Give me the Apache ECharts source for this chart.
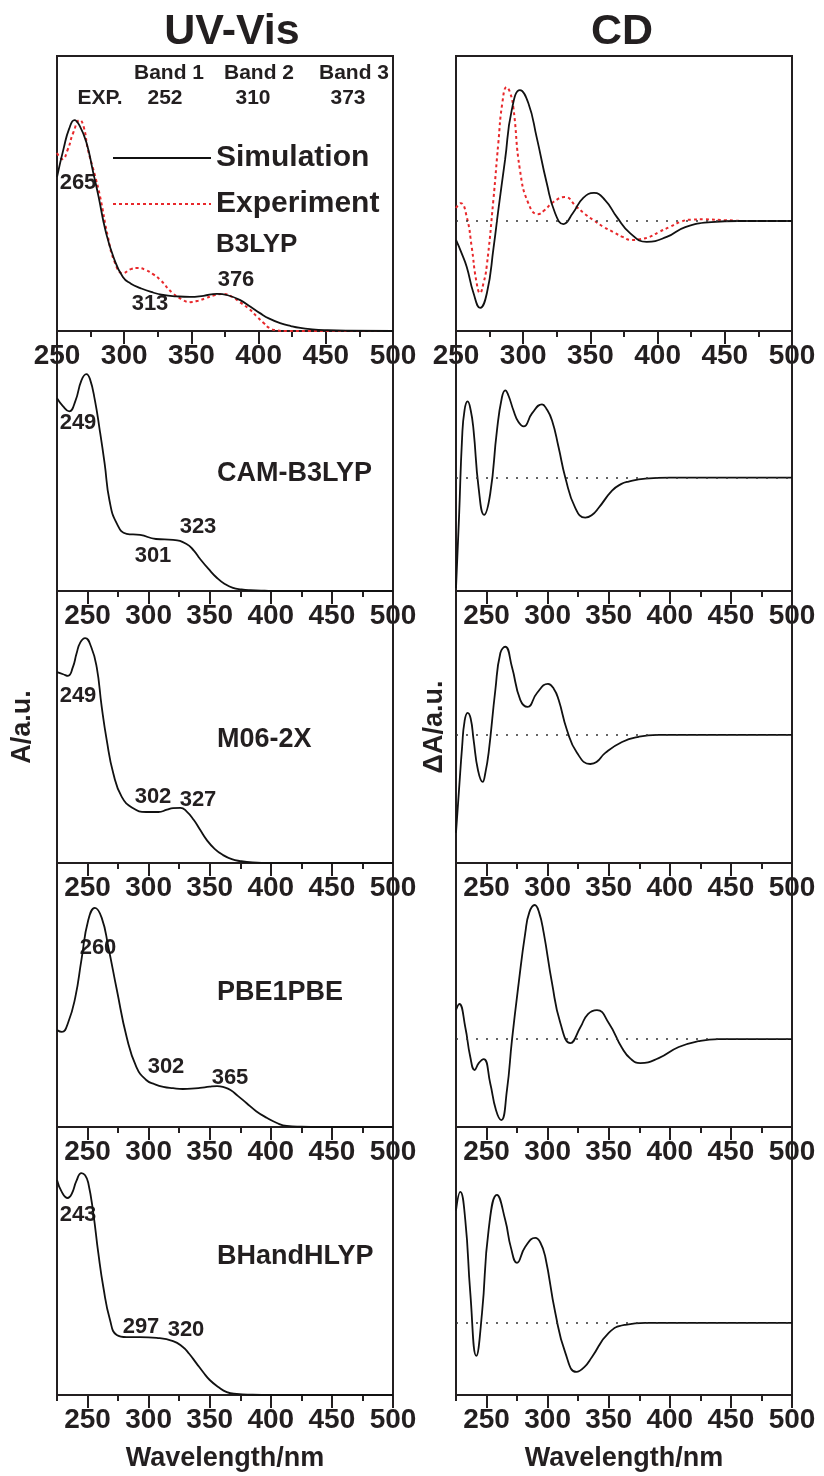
<!DOCTYPE html>
<html>
<head>
<meta charset="utf-8">
<script src="https://cdn.jsdelivr.net/npm/echarts@6/dist/echarts.min.js"></script>
<style>
  html, body { margin: 0; padding: 0; background: #fff; }
  #main { width: 824px; height: 1476px; }
</style>
</head>
<body>
<div id="main"></div>
<script>
// ---- data: [wavelength nm, intensity a.u.] ----
var methods = ['B3LYP', 'CAM-B3LYP', 'M06-2X', 'PBE1PBE', 'BHandHLYP'];

// UV-Vis (simulated) per functional, experiment for the first panel
var uvB3lyp = [[250,0.56],[255,0.665],[259,0.735],[263,0.767],[267,0.745],[272,0.684],[277,0.575],[281,0.487],[286,0.367],[292,0.269],[299,0.196],[305,0.172],[312,0.156],[320,0.142],[329,0.131],[339,0.126],[349,0.124],[359,0.128],[369,0.135],[377,0.13],[386,0.113],[394,0.088],[401,0.065],[408,0.045],[416,0.029],[424,0.018],[431,0.011],[440,0.006],[450,0.003],[465,0.001],[500,0]];
var uvExp = [[250,0.647],[254,0.625],[258,0.66],[262,0.72],[267,0.767],[270,0.74],[273,0.66],[278,0.57],[282,0.49],[288,0.34],[293,0.25],[299,0.21],[305,0.225],[310,0.229],[316,0.222],[322,0.205],[327,0.185],[336,0.138],[343,0.115],[349,0.105],[355,0.11],[361,0.12],[367,0.13],[373,0.135],[380,0.125],[386,0.105],[393,0.08],[399,0.051],[404,0.028],[408,0.011],[414,0.002],[420,0],[500,0]];
var uvCam = [[225,0.741],[230,0.71],[235,0.691],[240,0.73],[245,0.81],[249,0.834],[252,0.815],[256,0.734],[260,0.618],[264,0.49],[268,0.347],[274,0.259],[282,0.22],[293,0.216],[306,0.2],[320,0.197],[331,0.181],[337,0.155],[342,0.124],[349,0.085],[356,0.05],[362,0.028],[369,0.012],[376,0.006],[383,0.003],[395,0.001],[410,0],[500,0]];
var uvM062x = [[225,0.702],[230,0.694],[234,0.688],[238,0.72],[241,0.77],[244,0.81],[248,0.827],[253,0.794],[257.5,0.72],[261.6,0.574],[265.7,0.452],[271,0.331],[278,0.243],[287,0.202],[298,0.1875],[308,0.1875],[315,0.196],[320,0.202],[326,0.203],[331,0.19],[337,0.158],[342,0.123],[347.5,0.085],[354,0.052],[361,0.029],[368,0.014],[375,0.007],[385,0.002],[400,0],[500,0]];
var uvPbe = [[225,0.367],[229,0.36],[234,0.394],[240,0.492],[245,0.633],[250.6,0.784],[256,0.83],[261.6,0.792],[267,0.682],[274,0.519],[282,0.341],[290,0.227],[298,0.178],[305,0.162],[312,0.152],[320,0.147],[328,0.144],[335,0.145],[342,0.148],[350,0.153],[356,0.155],[362,0.15],[367,0.14],[373,0.118],[380,0.091],[388,0.06],[397,0.034],[405,0.015],[413,0.004],[425,0.001],[440,0],[500,0]];
var uvBhh = [[225,0.802],[229,0.757],[233.7,0.735],[237,0.75],[241,0.8],[245,0.828],[248,0.82],[250.6,0.791],[254.7,0.679],[258.8,0.53],[262.9,0.403],[268.4,0.28],[273.9,0.224],[282,0.216],[293,0.216],[306.6,0.213],[320,0.201],[328,0.179],[333,0.155],[339,0.119],[345,0.083],[350,0.056],[357,0.03],[364,0.011],[372,0.004],[385,0.001],[400,0],[500,0]];

// CD (simulated) per functional, experiment for the first panel
var cdB3lyp = [[250,-0.069],[254,-0.115],[258,-0.167],[263,-0.262],[268,-0.316],[273,-0.262],[278,-0.095],[281.5,0.04],[286.5,0.222],[291.5,0.404],[297.6,0.476],[303.8,0.429],[310,0.305],[317.5,0.138],[323.7,0.029],[329.9,-0.011],[337,0.029],[344.7,0.084],[352.7,0.102],[360.9,0.076],[369.6,0.015],[379.5,-0.044],[391.9,-0.076],[406.8,-0.058],[420.6,-0.022],[440,-0.004],[460,0],[500,0]];
var cdExp = [[250,0.047],[253.5,0.065],[258,0.015],[261.7,-0.095],[265,-0.215],[267.9,-0.262],[270.5,-0.225],[272.8,-0.167],[277.8,0.076],[281.5,0.284],[284.5,0.43],[287.7,0.487],[290,0.47],[292.6,0.415],[297.6,0.185],[303.8,0.065],[311,0.025],[316,0.04],[322.4,0.069],[331,0.087],[339.8,0.051],[346,0.025],[352,0.004],[360,-0.022],[367,-0.04],[374,-0.058],[380.7,-0.069],[387,-0.066],[394,-0.058],[401,-0.04],[409,-0.022],[416.7,-0.004],[425,0.005],[435,0.006],[450,0.003],[470,0],[500,0]];
var cdCam = [[225,-0.425],[227.5,-0.15],[230,0.154],[232,0.26],[234.5,0.293],[237,0.26],[239.4,0.181],[243.5,-0.039],[248,-0.143],[253,-0.062],[258.5,0.181],[262.6,0.309],[265.3,0.336],[268,0.315],[272,0.259],[276,0.215],[280.4,0.197],[287.2,0.247],[295.4,0.282],[299,0.265],[303.6,0.22],[309,0.116],[314.5,0],[322.6,-0.116],[330.8,-0.154],[336,-0.145],[341.8,-0.116],[352.7,-0.05],[360,-0.025],[366.3,-0.015],[380,-0.004],[400,0],[500,0]];
var cdM062x = [[225,-0.36],[227.5,-0.2],[230,-0.044],[232,0.05],[234.5,0.081],[237,0.06],[239.4,-0.018],[243,-0.13],[246.8,-0.173],[249,-0.14],[251.7,-0.066],[257.2,0.165],[261.3,0.301],[265.3,0.324],[270.8,0.25],[277.6,0.129],[283.6,0.103],[291.3,0.154],[300.3,0.1875],[305,0.17],[309,0.129],[315.8,0.018],[324,-0.066],[334.9,-0.107],[340,-0.1],[347.2,-0.066],[360.9,-0.026],[374.5,-0.007],[390,0],[500,0]];
var cdPbe = [[225,0.11],[227.7,0.133],[232.6,0.045],[236.7,-0.068],[240.3,-0.117],[243.6,-0.091],[247.7,-0.076],[253,-0.167],[257.7,-0.269],[262,-0.307],[266.7,-0.193],[270.8,-0.004],[276.3,0.212],[281.7,0.402],[285,0.48],[289.4,0.508],[293,0.48],[296.8,0.402],[303.6,0.212],[310.4,0.061],[318.6,-0.015],[326.8,0.045],[333,0.095],[340.4,0.11],[350,0.061],[360.9,-0.034],[368,-0.075],[375.8,-0.091],[390.9,-0.072],[407.3,-0.03],[423.6,-0.008],[440,0],[500,0]];
var cdBhh = [[225,0.42],[228.5,0.489],[232.6,0.384],[236.7,0.112],[241.6,-0.123],[246.3,0.037],[251.7,0.347],[258.5,0.478],[265.3,0.384],[270,0.28],[274.9,0.224],[281.7,0.284],[289.9,0.317],[294,0.3],[298.1,0.246],[306.3,0.037],[314.5,-0.112],[323.5,-0.183],[330,-0.165],[336.3,-0.127],[350,-0.037],[363.6,-0.007],[380,0],[500,0]];

var uvSim = [uvB3lyp, uvCam, uvM062x, uvPbe, uvBhh];
var cdSim = [cdB3lyp, cdCam, cdM062x, cdPbe, cdBhh];

// x-axis ticks
var xMin = [250, 225, 225, 225, 225];
var xMax = 500;
var xMajor = [250, 300, 350, 400, 450, 500];
var xMinorStep = 25;
// y ranges (UV from 0, CD around the zero line)
var uvRange = [0, 1];
var cdRange = [[-0.4, 0.6], [-0.436, 0.564], [-0.471, 0.529], [-0.333, 0.667], [-0.269, 0.731]];

// band assignments, panel 1
var bandNames = ['Band 1', 'Band 2', 'Band 3'];
var bandExp = ['252', '310', '373'];
// peak labels per panel
var peakLabels = [['265', '313', '376'], ['249', '323', '301'], ['249', '302', '327'], ['260', '302', '365'], ['243', '297', '320']];

// ---- layout ----
var FONT = '"Liberation Sans", Arial, sans-serif';
var INK = '#231f20';
var RED = '#e8282b';
var colX = [57, 456];
var colW = 336;
var tops = [56, 331, 591, 863, 1127];
var heights = [275, 260, 272, 264, 268];

var chart = echarts.init(document.getElementById('main'), null, { renderer: 'canvas' });

var grids = [], xAxes = [], yAxes = [], series = [];

for (var c = 0; c < 2; c++) {
  for (var p = 0; p < 5; p++) {
    var i = c * 5 + p;
    grids.push({
      left: colX[c], top: tops[p], width: colW, height: heights[p],
      show: true, borderColor: INK, borderWidth: 2,
      containLabel: false, outerBoundsMode: 'none'
    });
    // major ticks + labels
    xAxes.push({
      type: 'value', gridIndex: i, min: xMin[p], max: xMax, position: 'bottom',
      axisLine: { show: false, onZero: false }, splitLine: { show: false },
      axisTick: { show: true, customValues: xMajor, length: 13, lineStyle: { color: INK, width: 2 } },
      axisLabel: { customValues: xMajor, margin: 11, fontSize: 28, fontWeight: 'bold', color: INK, fontFamily: FONT },
      name: p === 4 ? 'Wavelength/nm' : '',
      nameLocation: 'middle', nameGap: 50,
      nameTextStyle: { fontSize: 27, fontWeight: 'bold', color: INK, fontFamily: FONT }
    });
    // minor ticks every 25 nm
    xAxes.push({
      type: 'value', gridIndex: i, min: xMin[p], max: xMax, interval: xMinorStep, position: 'bottom',
      axisLine: { show: false, onZero: false }, splitLine: { show: false }, axisLabel: { show: false },
      axisTick: { show: true, length: 6, lineStyle: { color: INK, width: 2 } }
    });
    var yr = c === 0 ? uvRange : cdRange[p];
    yAxes.push({
      type: 'value', gridIndex: i, min: yr[0], max: yr[1],
      axisLine: { show: false, onZero: false }, axisTick: { show: false }, axisLabel: { show: false }, splitLine: { show: false },
      name: p === 2 ? (c === 0 ? 'A/a.u.' : '\u0394A/a.u.') : '',
      nameLocation: 'middle', nameRotate: 90, nameGap: c === 0 ? 21 : 8,
      nameTextStyle: { fontSize: 27, fontWeight: 'bold', color: INK, fontFamily: FONT }
    });

    var sim = {
      name: c === 0 ? (p === 0 ? 'Simulation' : methods[p] + ' UV') : methods[p] + ' CD',
      type: 'line', xAxisIndex: 2 * i, yAxisIndex: i,
      data: c === 0 ? uvSim[p] : cdSim[p],
      symbol: 'none', showSymbol: false, smooth: 0.5, z: 3,
      lineStyle: { color: '#111', width: 1.8 }, itemStyle: { color: '#111' }
    };
    if (c === 1) {
      sim.markLine = {
        silent: true, symbol: ['none', 'none'], label: { show: false },
        lineStyle: { type: [2, 8], color: '#333', width: 1.6 },
        data: [{ yAxis: 0 }]
      };
    }
    series.push(sim);
    if (p === 0) {
      series.push({
        name: c === 0 ? 'Experiment' : 'CD Experiment',
        type: 'line', xAxisIndex: 2 * i, yAxisIndex: i,
        data: c === 0 ? uvExp : cdExp,
        symbol: 'none', showSymbol: false, smooth: 0.5, z: 2,
        lineStyle: { color: RED, width: 2, type: [3, 3] }, itemStyle: { color: RED }
      });
    }
  }
}

function txt(x, y, s, size, align) {
  return {
    type: 'text', x: x, y: y, silent: true,
    style: {
      text: s, font: 'bold ' + size + 'px ' + FONT, fill: INK,
      textAlign: align || 'center', textVerticalAlign: 'middle',
      align: align || 'center', verticalAlign: 'middle'
    }
  };
}

var graphics = [
  txt(232, 32, 'UV-Vis', 43),
  txt(622, 32, 'CD', 43),
  txt(169, 73, bandNames[0], 21), txt(259, 73, bandNames[1], 21), txt(354, 73, bandNames[2], 21),
  txt(100, 98, 'EXP.', 21), txt(165, 98, bandExp[0], 21), txt(253, 98, bandExp[1], 21), txt(348, 98, bandExp[2], 21),
  txt(216, 245, methods[0], 26, 'left'),
  txt(217, 474, methods[1], 27, 'left'),
  txt(217, 740, methods[2], 27, 'left'),
  txt(217, 993, methods[3], 27, 'left'),
  txt(217, 1257, methods[4], 27, 'left')
];
// peak label spots
var peakPos = [
  [[78, 183], [150, 304], [236, 280]],
  [[78, 423], [198, 527], [153, 556]],
  [[78, 696], [153, 797], [198, 800]],
  [[98, 948], [166, 1067], [230, 1078]],
  [[78, 1215], [141, 1327], [186, 1330]]
];
for (var k = 0; k < 5; k++) {
  for (var j = 0; j < 3; j++) {
    graphics.push(txt(peakPos[k][j][0], peakPos[k][j][1], peakLabels[k][j], 22));
  }
}

chart.setOption({
  animation: false,
  backgroundColor: '#fff',
  textStyle: { fontFamily: FONT },
  legend: {
    data: ['Simulation', 'Experiment'],
    left: 112, top: 143, orient: 'vertical',
    itemWidth: 98, itemHeight: 14, itemGap: 16, padding: 0,
    selectedMode: false,
    itemStyle: { opacity: 0 },
    textStyle: { fontSize: 30, fontWeight: 'bold', color: INK, fontFamily: FONT }
  },
  grid: grids,
  xAxis: xAxes,
  yAxis: yAxes,
  series: series,
  graphic: graphics
});
</script>
</body>
</html>
